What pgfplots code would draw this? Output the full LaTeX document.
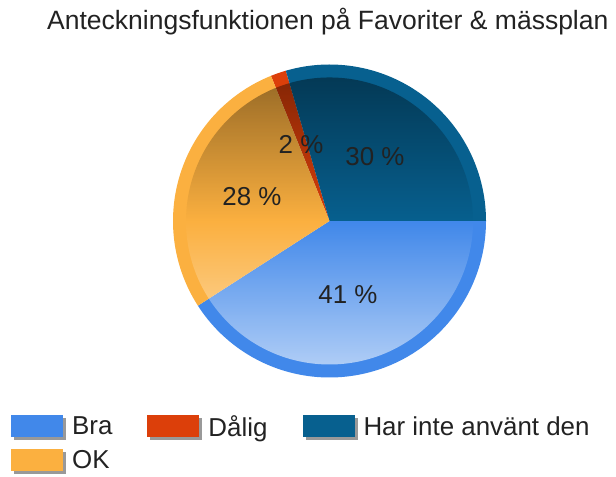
\documentclass[border=0pt]{standalone}
\usepackage{pgfplots}
\pgfplotsset{compat=1.18}
\usepackage{fontspec}
\setmainfont{Liberation Sans}
\usetikzlibrary{fadings}
\definecolor{bra}{HTML}{4188EA}
\definecolor{ok}{HTML}{FBB040}
\definecolor{dalig}{HTML}{DC3F0A}
\definecolor{har}{HTML}{07608F}
\definecolor{txt}{HTML}{222222}
\tikzfading[name=pietop, top color=transparent!60, bottom color=transparent!100, middle color=transparent!100]
\tikzfading[name=piebottom, top color=transparent!100, bottom color=transparent!42, middle color=transparent!100]
% percentages (clockwise from 3 o'clock: Bra, OK, Dålig, Har inte använt den)
\def\pBra{40.9}
\def\pOK{28.0}
\def\pDalig{1.6}
\def\pHar{29.5}
\def\cx{329.5}
\def\cy{256}
\def\R{156.5}
\newcommand\pieslice[3]{%
  \addplot[draw=none, fill=#3, domain=#1:#2, samples=120, variable=\t]
    ({\cx + \R*cos(-3.6*\t)}, {\cy + \R*sin(-3.6*\t)}) -- (axis cs:\cx,\cy) -- cycle;
}
\begin{document}
\begin{tikzpicture}
\useasboundingbox (0,0) rectangle (616bp,477bp);
\begin{axis}[
  scale only axis, width=616bp, height=477bp,
  xmin=0, xmax=616, ymin=0, ymax=477,
  hide axis, clip=false,
  legend columns=3,
  legend cell align=left,
  legend style={at={(axis cs:8,64)}, anchor=north west, draw=none, fill=none,
    font=\fontsize{26}{30}\selectfont, text=txt,
    nodes={inner sep=0pt},
    /tikz/every odd column/.append style={column sep=6bp},
    /tikz/every even column/.append style={column sep=35bp},
    row sep=9bp},
  legend image code/.code={%
    \fill[black!40] (3bp,-14bp) rectangle (55bp,8bp);
    \fill[#1, draw=none] (0bp,-11bp) rectangle (52bp,11bp);},
]
\pgfmathsetmacro\aA{0}
\pgfmathsetmacro\aB{\pBra}
\pgfmathsetmacro\aC{\pBra+\pOK}
\pgfmathsetmacro\aD{\pBra+\pOK+\pDalig}
\pgfmathsetmacro\aE{\pBra+\pOK+\pDalig+\pHar}
\pieslice{\aA}{\aB}{bra}
\pieslice{\aC}{\aD}{dalig}
\pieslice{\aD}{\aE}{har}
\pieslice{\aB}{\aC}{ok}
\legend{Bra, Dålig, Har inte använt den, OK}
\fill[black, path fading=pietop] (axis cs:\cx,\cy) circle[radius=143.5];
\fill[white, path fading=piebottom] (axis cs:\cx,\cy) circle[radius=143.5];
\node[font=\fontsize{26}{30}\selectfont, text=txt] at (axis cs:348,182) {41 \%};
\node[font=\fontsize{26}{30}\selectfont, text=txt] at (axis cs:375,320) {30 \%};
\node[font=\fontsize{26}{30}\selectfont, text=txt] at (axis cs:252,280) {28 \%};
\node[font=\fontsize{26}{30}\selectfont, text=txt] at (axis cs:301,332) {2 \%};
\node[font=\fontsize{26.6}{30}\selectfont, text=txt, anchor=base west, inner sep=0pt] at (axis cs:47,447) {Anteckningsfunktionen på Favoriter \& mässplan};
\end{axis}
\end{tikzpicture}
\end{document}
